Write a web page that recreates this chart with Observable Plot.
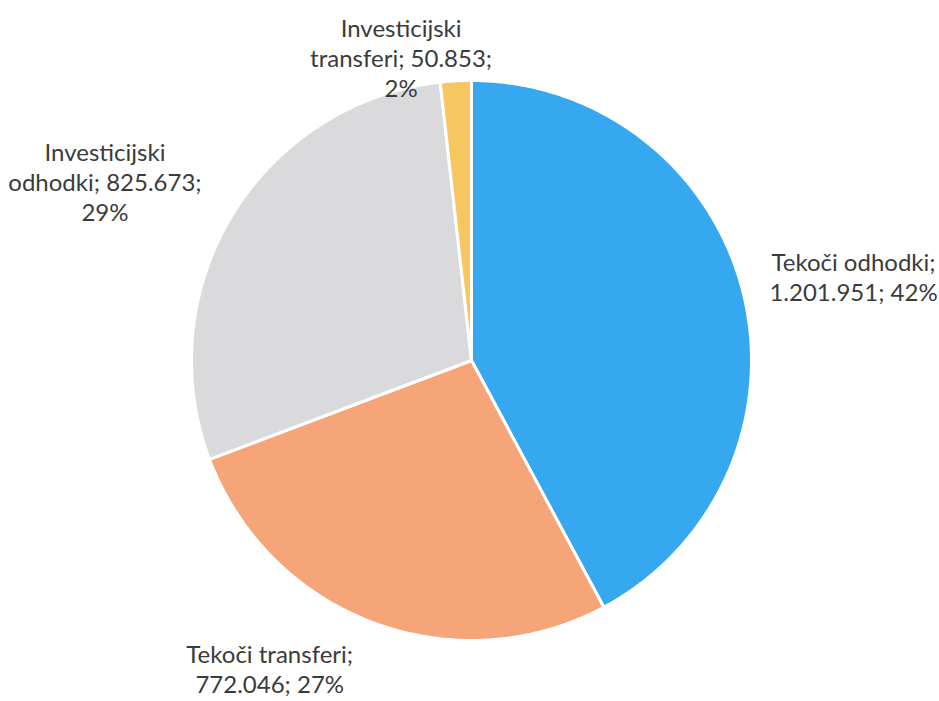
<!DOCTYPE html>
<html>
<head>
<meta charset="utf-8">
<script src="https://cdn.jsdelivr.net/npm/d3@7"></script>
<script src="https://cdn.jsdelivr.net/npm/@observablehq/plot@0.6"></script>
<style>
  html, body { margin: 0; padding: 0; background: #fff; }
  #chart svg { display: block; }
</style>
</head>
<body>
<div id="chart"></div>
<script>
// ---- data ----
const categories = ["Tekoči odhodki", "Tekoči transferi", "Investicijski odhodki", "Investicijski transferi"];
const values = [1201951, 772046, 825673, 50853];
const colors = ["#35a8f0", "#f5a577", "#dadadc", "#f6c760"];

// ---- layout (not data) ----
const W = 939, H = 701;
const CX = 471, CY = 360, R = 280;         // pixel centre and radius
const labelRadius = 1.3;                   // in radius units
const labelNudge = [[29, 5], [-74, -33], [-56, 11], [-50, 60]]; // px

const total = d3.sum(values);
const fmt = v => d3.format(",")(v).replace(/,/g, ".");

function wrap(text, maxChars) {
  const words = text.split(" ");
  const lines = [];
  let cur = "";
  for (const w of words) {
    if (cur && (cur + " " + w).length > maxChars) { lines.push(cur); cur = w; }
    else cur = cur ? cur + " " + w : w;
  }
  if (cur) lines.push(cur);
  return lines.join("\n");
}

const pie = d3.pie().sort(null).value(d => d.value)(
  categories.map((c, i) => ({cat: c, value: values[i], i}))
);

const polys = [];
for (const a of pie) {
  const n = Math.max(2, Math.ceil((a.endAngle - a.startAngle) / (Math.PI / 360)));
  polys.push({cat: a.data.cat, x: 0, y: 0});
  for (let k = 0; k <= n; k++) {
    const t = a.startAngle + (a.endAngle - a.startAngle) * k / n;
    polys.push({cat: a.data.cat, x: Math.sin(t), y: Math.cos(t)});
  }
}

const labels = pie.map(a => {
  const mid = (a.startAngle + a.endAngle) / 2;
  const pct = Math.round(a.data.value / total * 100);
  return {
    cat: a.data.cat,
    x: labelRadius * Math.sin(mid),
    y: labelRadius * Math.cos(mid),
    dx: labelNudge[a.data.i][0],
    dy: labelNudge[a.data.i][1],
    text: wrap(`${a.data.cat}; ${fmt(a.data.value)}; ${pct}%`, 18)
  };
});

const plot = Plot.plot({
  width: W,
  height: H,
  margin: 0,
  style: {background: "#fff", fontFamily: "Lato, 'Open Sans', sans-serif"},
  x: {domain: [-CX / R, (W - CX) / R], axis: null},
  y: {domain: [-(H - CY) / R, CY / R], axis: null},
  color: {domain: categories, range: colors},
  marks: [
    Plot.line(polys, {
      x: "x", y: "y", z: "cat", fill: "cat",
      stroke: "#ffffff", strokeWidth: 3, strokeLinejoin: "round",
      curve: "linear-closed"
    }),
    ...labels.map(l => Plot.text([l], {
      x: "x", y: "y", text: "text",
      dx: l.dx, dy: l.dy,
      fontSize: 24, lineHeight: 1.25,
      fill: "#3b3b3b", textAnchor: "middle"
    }))
  ]
});

document.getElementById("chart").appendChild(plot);
</script>
</body>
</html>
